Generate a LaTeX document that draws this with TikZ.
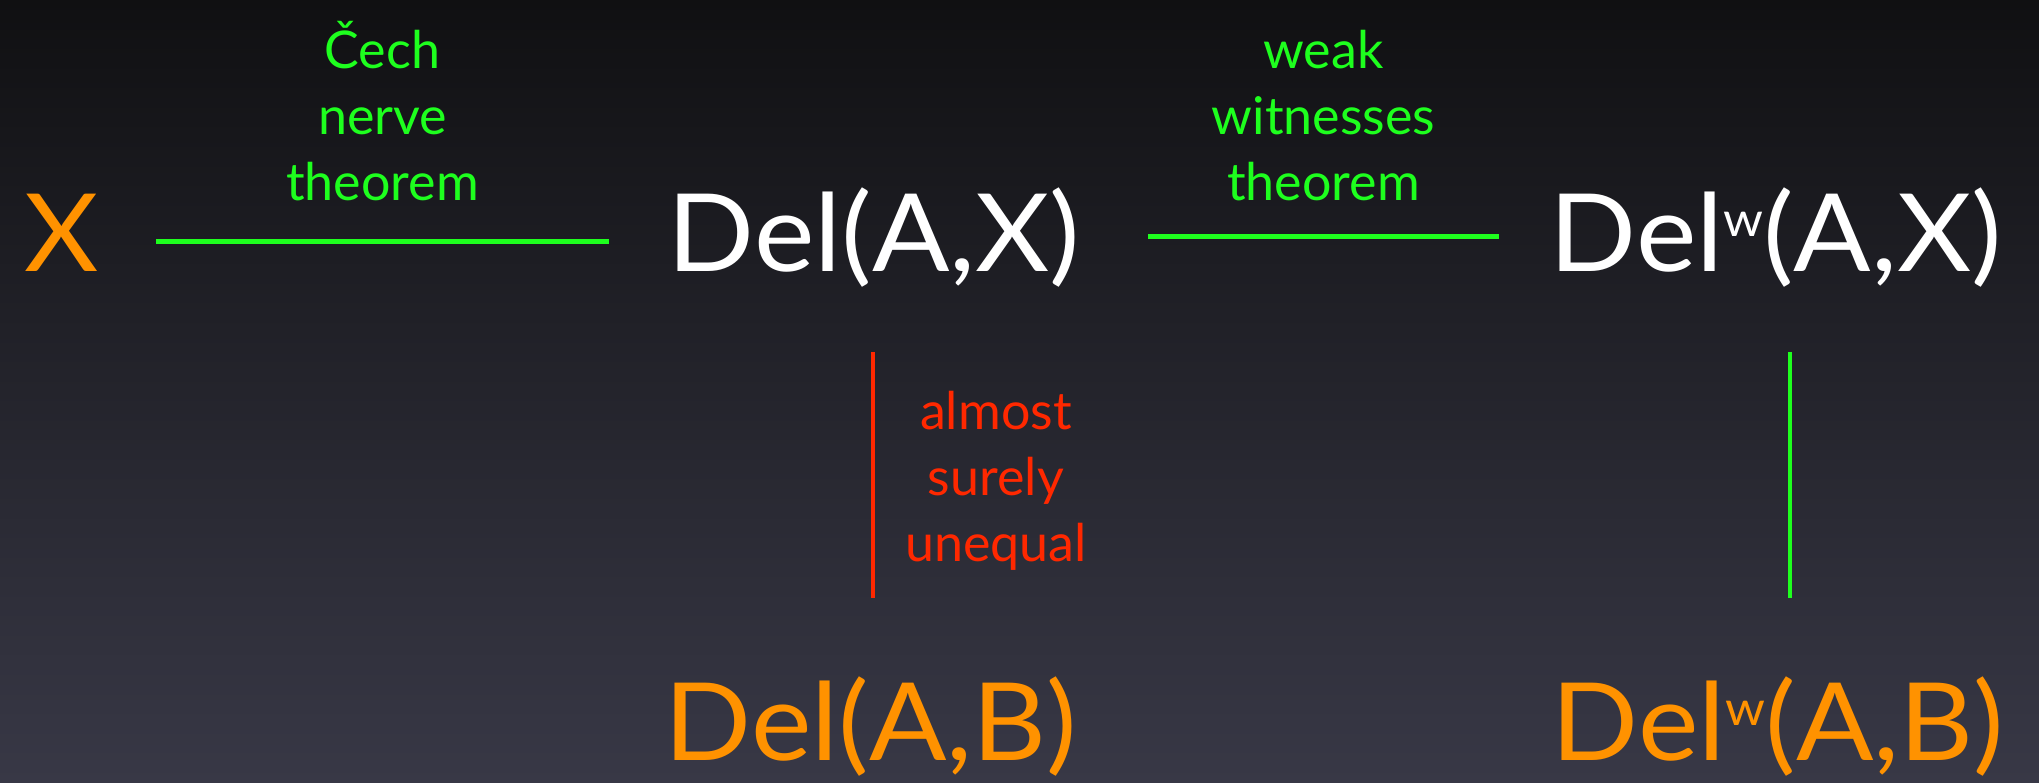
\documentclass[tikz,border=0pt]{standalone}
\usepackage{fontspec}
\setmainfont{Lato}
\newfontfamily\bigfont{Lato}[FakeStretch=1.06]
\usetikzlibrary{calc}
\definecolor{bgtop}{RGB}{16,16,18}
\definecolor{bgbot}{RGB}{56,56,70}
\definecolor{orng}{RGB}{255,146,0}
\definecolor{grn}{RGB}{30,255,30}
\definecolor{rd}{RGB}{255,40,0}
\newcommand{\supw}{\raisebox{17.5pt}{\fontsize{24}{24}\selectfont w}}
\begin{document}
\begin{tikzpicture}[x=0.5pt,y=0.5pt,
  big/.style={inner sep=0pt, anchor=base, font=\bigfont\fontsize{54}{56}\selectfont},
  lbl/.style={inner sep=0pt, align=center, font=\fontsize{26}{33}\selectfont},
  conn/.style={line width=2.5pt, grn},
  vconn/.style={line width=2pt}]
\useasboundingbox (0,0) rectangle (2039,782);
\shade[top color=bgtop, bottom color=bgbot] (0,0) rectangle (2039,782);
\node[big, text=orng] (X) at (62,510) {X};
\node[big, text=white] (DAX) at (874,510) {Del(A,X)};
\node[big, text=white] (DwAX) at (1776,510) {Del\supw(A,X)};
\node[big, text=orng] (DAB) at (871,22) {Del(A,B)};
\node[big, text=orng] (DwAB) at (1778,22) {Del\supw(A,B)};
\draw[conn] ($(X.base)+(94,30)$) -- node[lbl, text=grn, above=19.5pt]{Čech\\nerve\\theorem} ($(DAX.base)+(-265,30)$);
\draw[conn] ($(DAX.base)+(274,35)$) -- node[lbl, text=grn, above=17pt]{weak\\witnesses\\theorem} ($(DwAX.base)+(-277,35)$);
\draw[vconn, rd] ($(DAX.base)+(-1,-80)$) -- node[lbl, text=rd, right=15pt, yshift=-3pt]{almost\\surely\\unequal} ($(DAB.base)+(2,162)$);
\draw[vconn, grn] ($(DwAX.base)+(14,-80)$) -- ($(DwAB.base)+(12,162)$);
\end{tikzpicture}
\end{document}
